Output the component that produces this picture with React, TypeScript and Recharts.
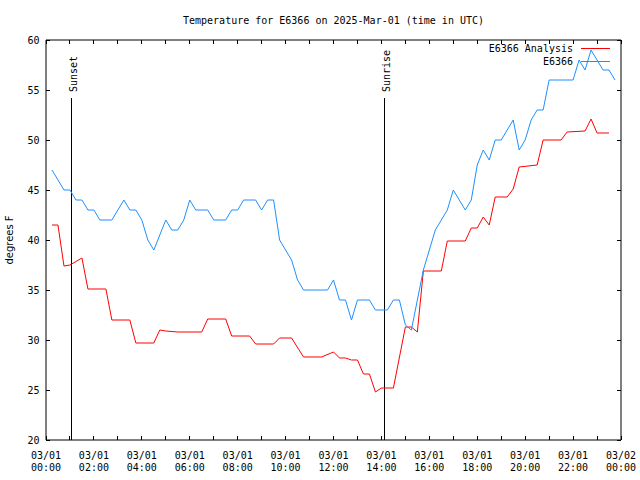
import { LineChart, Line, XAxis, YAxis, ReferenceLine, Legend } from "recharts";

const MONO = "'DejaVu Sans Mono', monospace";

const chartTitle = "Temperature for E6366 on 2025-Mar-01 (time in UTC)";

// hours since 03/01 00:00 UTC
const obsHours = [
  0.25, 0.75, 1, 1.25, 1.5, 1.75, 2, 2.25, 2.75, 3.25, 3.5, 3.75, 4, 4.25, 4.5, 5, 5.25, 5.5, 5.75, 6, 6.25,
  6.75, 7, 7.5, 7.75, 8, 8.25, 8.75, 9, 9.25, 9.5, 9.75, 10, 10.25, 10.5, 10.75, 11.75, 12, 12.25, 12.5, 12.75,
  13, 13.5, 13.75, 14.25, 14.5, 14.75, 15, 15.25, 15.75, 16, 16.25, 16.5, 16.75, 17, 17.5, 17.75, 18, 18.25,
  18.5, 18.75, 19, 19.5, 19.75, 20, 20.25, 20.5, 20.75, 21, 22, 22.25, 22.5, 22.75, 23, 23.25, 23.5, 23.75,
];
const obsTemps = [
  47, 45, 45, 44, 44, 43, 43, 42, 42, 44, 43, 43, 42, 40, 39, 42, 41, 41, 42, 44, 43,
  43, 42, 42, 43, 43, 44, 44, 43, 44, 44, 40, 39, 38, 36, 35, 35, 36, 34, 34, 32,
  34, 34, 33, 33, 34, 34, 31.5, 31, 37, 39, 41, 42, 43, 45, 43, 44, 47.5, 49,
  48, 50, 50, 52, 49, 50, 52, 53, 53, 56, 56, 58, 57, 59, 58, 57, 57, 56,
];

const anHours = [
  0.25, 0.5, 0.75, 1, 1.5, 1.75, 2.5, 2.75, 3.5, 3.75, 4.5, 4.75, 5, 5.5, 6.5, 6.75, 7.5, 7.75, 8.5, 8.75,
  9.5, 9.75, 10.25, 10.75, 11.5, 12, 12.25, 12.5, 12.75, 13, 13.25, 13.5, 13.75, 14, 14.5, 15, 15.25, 15.5,
  15.75, 16.5, 16.75, 17.5, 17.75, 18, 18.25, 18.5, 18.75, 19.25, 19.5, 19.75, 20.5, 20.75, 21.5, 21.75,
  22.5, 22.75, 23, 23.5,
];
const anTemps = [
  41.5, 41.5, 37.4, 37.5, 38.2, 35.1, 35.1, 32.0, 32.0, 29.7, 29.7, 31.0, 30.9, 30.8, 30.8, 32.1, 32.1, 30.4, 30.4, 29.6,
  29.6, 30.2, 30.2, 28.3, 28.3, 28.8, 28.2, 28.2, 28.0, 28.0, 26.6, 26.6, 24.8, 25.2, 25.2, 31.3, 31.3, 30.8,
  36.9, 36.9, 39.9, 39.9, 41.2, 41.2, 42.3, 41.5, 44.3, 44.3, 45.1, 47.3, 47.5, 50.0, 50.0, 50.8,
  50.9, 52.1, 50.7, 50.7,
];

const hourTicks = Array.from({ length: 25 }, (_, i) => i);
const tempTicks = [20, 25, 30, 35, 40, 45, 50, 55, 60];
const xTickDates = ["03/01", "03/01", "03/01", "03/01", "03/01", "03/01", "03/01", "03/01", "03/01", "03/01", "03/01", "03/01", "03/02"];
const xTickTimes = ["00:00", "02:00", "04:00", "06:00", "08:00", "10:00", "12:00", "14:00", "16:00", "18:00", "20:00", "22:00", "00:00"];

const sunsetHour = 1.06;
const sunriseHour = 14.11;

const series = [
  { name: "E6366 Analysis", color: "#ff0000" },
  { name: "E6366", color: "#1e90ff" },
];

const analysisData = anHours.map((t, i) => ({ t, v: anTemps[i] }));
const obsData = obsHours.map((t, i) => ({ t, v: obsTemps[i] }));

const BottomTick = ({ x, y, payload }: any) => {
  const h = payload.value;
  const major = h % 2 === 0;
  return (
    <g>
      <line x1={x} y1={y} x2={x} y2={y - 4} stroke="#000" shapeRendering="crispEdges" />
      {major && (
        <g fontFamily={MONO} fontSize={10} fill="#000" textAnchor="middle">
          <text x={x} y={y + 18.5}>{xTickDates[h / 2]}</text>
          <text x={x} y={y + 31}>{xTickTimes[h / 2]}</text>
        </g>
      )}
    </g>
  );
};

const TopTick = ({ x, y }: any) => (
  <line x1={x} y1={y} x2={x} y2={y + 4} stroke="#000" shapeRendering="crispEdges" />
);

const LeftTick = ({ x, y, payload }: any) => (
  <g>
    <line x1={x} y1={y} x2={x + 4} y2={y} stroke="#000" shapeRendering="crispEdges" />
    <text x={x - 6.5} y={y + 3.5} textAnchor="end" fontFamily={MONO} fontSize={10} fill="#000">
      {payload.value}
    </text>
  </g>
);

const RightTick = ({ x, y }: any) => (
  <line x1={x} y1={y} x2={x - 4} y2={y} stroke="#000" shapeRendering="crispEdges" />
);

const sunLabel = (text: string) => (props: any) => {
  const vb = props.viewBox || {};
  const tx = vb.x + 6;
  const ty = vb.y - 6;
  return (
    <text x={tx} y={ty} transform={`rotate(-90 ${tx} ${ty})`} fontFamily={MONO} fontSize={10} fill="#000">
      {text}
    </text>
  );
};

const yLabel = (props: any) => {
  const vb = props.viewBox || {};
  const tx = vb.x + 13;
  const ty = vb.y + vb.height / 2;
  return (
    <text x={tx} y={ty} transform={`rotate(-90 ${tx} ${ty})`} textAnchor="middle" fontFamily="'DejaVu Sans', sans-serif" fontSize={10} fill="#000">
      degrees F
    </text>
  );
};

const LegendBox = () => (
  <div style={{ fontFamily: MONO, fontSize: 10, color: "#000" }}>
    {series.map((s) => (
      <div key={s.name} style={{ display: "flex", justifyContent: "flex-end", alignItems: "center", height: 13 }}>
        <span style={{ whiteSpace: "pre" }}>{s.name}</span>
        <svg width={38} height={13}>
          <line x1={8} y1={6.5} x2={37} y2={6.5} stroke={s.color} />
        </svg>
      </div>
    ))}
  </div>
);

export default function App() {
  return (
    <div style={{ position: "absolute", left: 0, top: 0, width: 640, height: 480, background: "#fff" }}>
      <div
        style={{
          position: "absolute",
          left: 46,
          width: 575,
          top: 15,
          textAlign: "center",
          fontFamily: MONO,
          fontSize: 10,
          lineHeight: "12px",
          whiteSpace: "pre",
        }}
      >
        {chartTitle}
      </div>
      <LineChart width={640} height={480} margin={{ top: 0, right: 0, bottom: 0, left: 0 }}>
        <XAxis
          type="number"
          dataKey="t"
          domain={[0, 24]}
          ticks={hourTicks}
          interval={0}
          height={40}
          tickSize={0}
          tickMargin={0}
          tickLine={false}
          axisLine={{ stroke: "#000" }}
          tick={<BottomTick />}
          allowDataOverflow
        />
        <XAxis
          xAxisId="top"
          orientation="top"
          type="number"
          dataKey="t"
          domain={[0, 24]}
          ticks={hourTicks}
          interval={0}
          height={40}
          tickSize={0}
          tickMargin={0}
          tickLine={false}
          axisLine={{ stroke: "#000" }}
          tick={<TopTick />}
          allowDataOverflow
        />
        <YAxis
          type="number"
          domain={[20, 60]}
          ticks={tempTicks}
          interval={0}
          width={46}
          tickSize={0}
          tickMargin={0}
          tickLine={false}
          axisLine={{ stroke: "#000" }}
          tick={<LeftTick />}
          label={yLabel}
          allowDataOverflow
        />
        <YAxis
          yAxisId="right"
          orientation="right"
          type="number"
          domain={[20, 60]}
          ticks={tempTicks}
          interval={0}
          width={19}
          tickSize={0}
          tickMargin={0}
          tickLine={false}
          axisLine={{ stroke: "#000" }}
          tick={<RightTick />}
          allowDataOverflow
        />
        <ReferenceLine
          segment={[{ x: sunsetHour, y: 54.2 }, { x: sunsetHour, y: 20 }]}
          stroke="#000"
          shapeRendering="crispEdges"
          label={sunLabel("Sunset")}
        />
        <ReferenceLine
          segment={[{ x: sunriseHour, y: 54.2 }, { x: sunriseHour, y: 20 }]}
          stroke="#000"
          shapeRendering="crispEdges"
          label={sunLabel("Sunrise")}
        />
        <Line
          data={analysisData}
          dataKey="v"
          name={series[0].name}
          type="linear"
          stroke={series[0].color}
          strokeWidth={1}
          dot={false}
          activeDot={false}
          isAnimationActive={false}
        />
        <Line
          data={obsData}
          dataKey="v"
          name={series[1].name}
          type="linear"
          stroke={series[1].color}
          strokeWidth={1}
          dot={false}
          activeDot={false}
          isAnimationActive={false}
        />
        <Legend
          layout="vertical"
          align="center"
          verticalAlign="middle"
          content={<LegendBox />}
          wrapperStyle={{ left: "auto", right: 29, top: 42, width: "auto" }}
        />
      </LineChart>
    </div>
  );
}
